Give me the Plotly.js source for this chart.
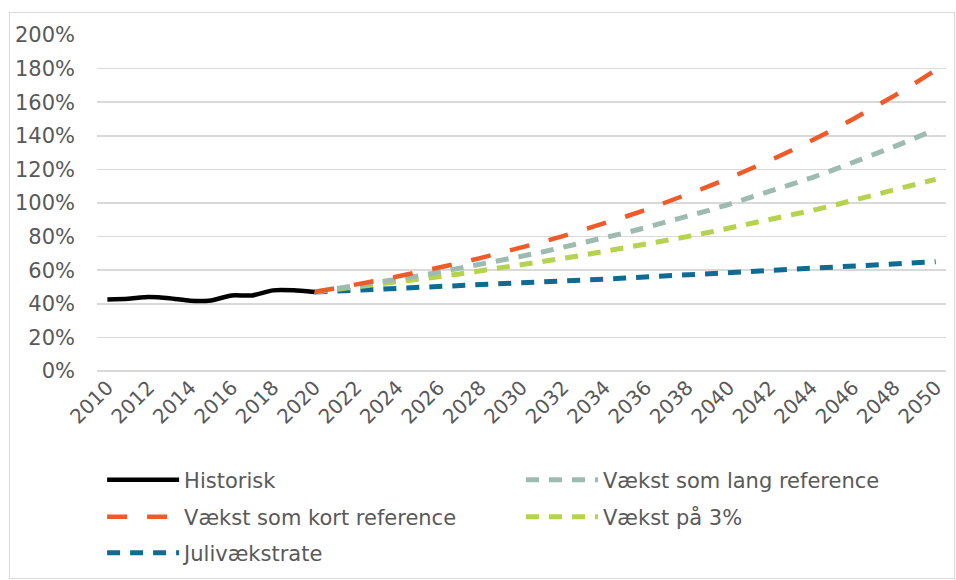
<!DOCTYPE html>
<html>
<head>
<meta charset="utf-8">
<script src="https://cdn.plot.ly/plotly-3.0.1.min.js"></script>
<style>
html,body{margin:0;padding:0;background:#fff;}
#wrap{position:relative;width:956px;height:580px;}
#chart{position:absolute;left:0;top:0;width:956px;height:580px;}
#frame{position:absolute;left:9px;top:12px;width:946px;height:567px;border:1px solid #d9d9d9;box-sizing:border-box;pointer-events:none;}
</style>
</head>
<body>
<div id="wrap"><div id="chart"></div><div id="frame"></div></div>
<script>
const histYears = [2010,2011,2012,2013,2014,2015,2016,2017,2018,2019,2020];
const historisk = [42.5,43.0,44.0,43.3,41.8,42.0,45.0,45.0,48.0,48.0,47.0];

const projYears = [2020,2021,2022,2023,2024,2025,2026,2027,2028,2029,2030,2031,2032,2033,2034,2035,2036,2037,2038,2039,2040,2041,2042,2043,2044,2045,2046,2047,2048,2049,2050];
const kortRef = [47.0,49.1,51.4,53.7,56.2,58.7,61.4,64.2,67.2,70.2,73.4,76.8,80.3,83.9,87.8,91.8,95.9,100.3,104.9,109.7,114.7,119.9,125.4,131.1,137.1,143.3,149.9,156.7,163.8,171.3,179.1];
const langRef = [47.0,48.8,50.6,52.6,54.6,56.6,58.8,61.0,63.3,65.8,68.3,70.8,73.5,76.3,79.2,82.2,85.4,88.6,92.0,95.5,99.1,102.9,106.8,110.8,115.0,119.4,124.0,128.7,133.6,138.6,143.9];
const vaekst3 = [47.0,48.4,49.9,51.4,52.9,54.5,56.1,57.8,59.5,61.3,63.2,65.1,67.0,69.0,71.1,73.2,75.4,77.7,80.0,82.4,84.9,87.4,90.1,92.8,95.5,98.4,101.4,104.4,107.5,110.8,114.1];
const juli = [47.0,47.5,48.0,48.6,49.1,49.6,50.2,50.7,51.3,51.8,52.4,53.0,53.5,54.1,54.7,55.3,55.9,56.5,57.1,57.8,58.4,59.0,59.7,60.3,61.0,61.6,62.3,63.0,63.7,64.4,65.1];

const names = ["Historisk","Vækst som lang reference","Vækst som kort reference","Vækst på 3%","Julivækstrate"];
const yTicks = [0,20,40,60,80,100,120,140,160,180,200];

const FONT = "Verdana, 'DejaVu Sans', sans-serif";
const TXT = "#595959";

const traces = [
  {x: projYears, y: juli, name: names[4], legend: 'legend5', mode: 'lines',
   line: {color: '#0f6a94', width: 5, dash: '13px,10px'}},
  {x: projYears, y: vaekst3, name: names[3], legend: 'legend4', mode: 'lines',
   line: {color: '#b5d34f', width: 5, dash: '13px,10px'}},
  {x: projYears, y: langRef, name: names[1], legend: 'legend2', mode: 'lines',
   line: {color: '#9dbbb0', width: 5, dash: '13px,10px'}},
  {x: projYears, y: kortRef, name: names[2], legend: 'legend3', mode: 'lines',
   line: {color: '#f05a28', width: 4.5, dash: '20px,20px'}},
  {x: histYears, y: historisk, name: names[0], legend: 'legend', mode: 'lines',
   line: {color: '#000000', width: 4.5, shape: 'spline', smoothing: 0.6}}
];

function leg(x, y) {
  return {x: x, y: y, xanchor: 'left', yanchor: 'middle', orientation: 'h',
    bgcolor: 'rgba(0,0,0,0)', borderwidth: 0, itemwidth: 72,
    font: {family: FONT, size: 21, color: TXT}};
}

const layout = {
  width: 956, height: 580,
  margin: {l: 97, r: 10, t: 35, b: 209, autoexpand: false},
  paper_bgcolor: '#ffffff', plot_bgcolor: '#ffffff',
  font: {family: FONT, size: 20, color: TXT},
  showlegend: true,
  xaxis: {
    type: 'linear', range: [2009.5, 2050.5], tick0: 2010, dtick: 2,
    tickangle: -45, showgrid: false, zeroline: false, showline: false,
    ticks: '', tickfont: {family: FONT, size: 20, color: TXT}, fixedrange: true
  },
  yaxis: {
    range: [0, 200], tickvals: yTicks, ticktext: yTicks.map(v => v + '%'),
    gridcolor: '#d9d9d9', gridwidth: 1.5, zeroline: true, zerolinecolor: '#d9d9d9', zerolinewidth: 1.5,
    showline: false, ticks: '', ticklabelstandoff: 21,
    tickfont: {family: FONT, size: 21, color: TXT}, fixedrange: true
  },
  legend:  leg(0.006, -0.3244),
  legend2: leg(0.4994, -0.3244),
  legend3: leg(0.006, -0.4345),
  legend4: leg(0.4994, -0.4345),
  legend5: leg(0.006, -0.5417)
};

Plotly.newPlot('chart', traces, layout, {displayModeBar: false, staticPlot: true});
</script>
</body>
</html>
